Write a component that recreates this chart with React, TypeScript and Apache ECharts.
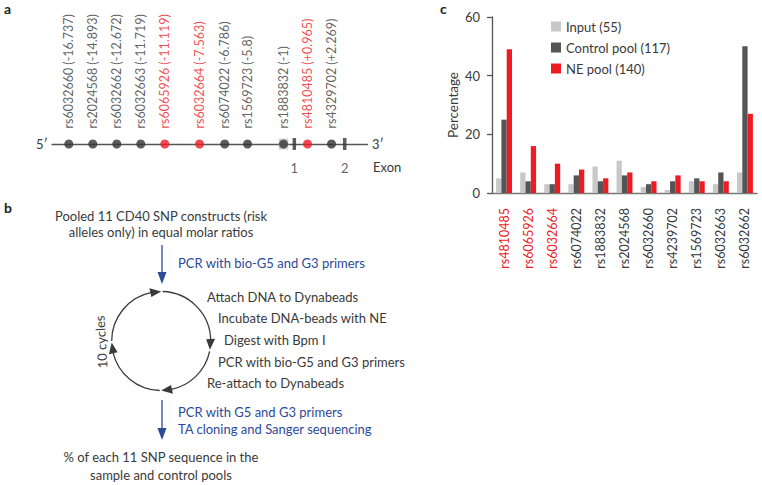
import React, { useEffect, useRef } from "react";
import * as echarts from "echarts";

// ---------- Panel a data ----------
const snpLabels = [
  "rs6032660 (-16.737)",
  "rs2024568 (-14.893)",
  "rs6032662 (-12.672)",
  "rs6032663 (-11.719)",
  "rs6065926 (-11.119)",
  "rs6032664 (-7.563)",
  "rs6074022 (-6.786)",
  "rs1569723 (-5.8)",
  "rs1883832 (-1)",
  "rs4810485 (+0.965)",
  "rs4329702 (+2.269)",
];
// schematic positions along the gene line
const snpPos = [0, 1, 2, 3, 4, 5.45, 6.5, 7.45, 8.95, 9.95, 10.95];
const snpRisk = [false, false, false, false, true, true, false, false, false, true, false];
const boxedSnp = [8];
const exonPos = [9.4, 11.5];
const exonLabels = ["1", "2"];
const geneExtent = [-0.7, 12.45];

// ---------- Panel c data ----------
const categories = [
  "rs4810485",
  "rs6065926",
  "rs6032664",
  "rs6074022",
  "rs1883832",
  "rs2024568",
  "rs6032660",
  "rs4239702",
  "rs1569723",
  "rs6032663",
  "rs6032662",
];
const riskCategories = ["rs4810485", "rs6065926", "rs6032664"];
const inputVals = [5, 7, 3, 3, 9, 11, 2, 1, 4, 3, 7];
const controlVals = [25, 4, 3, 6, 4, 6, 3, 4, 5, 7, 50];
const neVals = [49, 16, 10, 8, 5, 7, 4, 6, 4, 4, 27];
const seriesNames = ["Input (55)", "Control pool (117)", "NE pool (140)"];
const yTicks = { min: 0, max: 60, interval: 20 };

const FONT = "Lato, 'Open Sans', sans-serif";
const RED = "#ed1c24";
const DARK = "#3a3a3a";
const BLUE = "#2b4a98";

function txt(text: string, x: number, y: number, opts: any = {}) {
  const align = opts.align || "left";
  return {
    type: "text",
    x,
    y,
    rotation: opts.rotation || 0,
    style: {
      text,
      fill: opts.color || DARK,
      fontSize: opts.size || 13,
      fontFamily: FONT,
      fontWeight: opts.weight || "normal",
      align,
      textAlign: align,
      verticalAlign: "middle",
      textVerticalAlign: "middle",
    },
  };
}

function buildCycle() {
  const cx = 161.2;
  const cy = 341;
  const r = 49.5;
  const tips = [-Math.PI / 2, 0.18, Math.PI / 2, Math.PI - 0.03];
  const len = 0.22;
  const half = 4.5;
  const els: any[] = [];
  for (let i = 0; i < 4; i++) {
    const t = tips[i];
    let next = tips[(i + 1) % 4];
    if (next < t) next += Math.PI * 2;
    els.push({
      type: "arc",
      shape: { cx, cy, r, startAngle: t + 0.03, endAngle: next - len + 0.03, clockwise: true },
      style: { stroke: DARK, lineWidth: 1.3, fill: null },
    });
    const b = t - len;
    const tip = [cx + r * Math.cos(t), cy + r * Math.sin(t)];
    const b1 = [cx + (r - half) * Math.cos(b), cy + (r - half) * Math.sin(b)];
    const b2 = [cx + (r + half) * Math.cos(b), cy + (r + half) * Math.sin(b)];
    els.push({ type: "polygon", shape: { points: [tip, b1, b2] }, style: { fill: DARK } });
  }
  return els;
}

function blueArrow(x: number, y1: number, y2: number) {
  return [
    { type: "line", shape: { x1: x, y1, x2: x, y2: y2 - 10 }, style: { stroke: BLUE, lineWidth: 1.3 } },
    {
      type: "polygon",
      shape: { points: [[x - 4.5, y2 - 12], [x + 4.5, y2 - 12], [x, y2]] },
      style: { fill: BLUE },
    },
  ];
}

export default function App() {
  const ref = useRef<HTMLDivElement>(null);
  useEffect(() => {
    if (!ref.current) return;
    const chart = echarts.init(ref.current, undefined, { renderer: "svg" });

    const graphics: any[] = [
      txt("a", 4, 8, { weight: "bold", size: 14, color: "#222" }),
      txt("b", 4, 207, { weight: "bold", size: 14, color: "#222" }),
      txt("c", 440, 8, { weight: "bold", size: 14, color: "#222" }),
      txt("5\u2032", 36, 144),
      txt("3\u2032", 372, 144),
      txt("Exon", 373, 167),
      txt("Pooled 11 CD40 SNP constructs (risk", 161, 216, { align: "center" }),
      txt("alleles only) in equal molar ratios", 161, 232, { align: "center" }),
      ...blueArrow(162, 245, 284),
      txt("PCR with bio-G5 and G3 primers", 178, 263, { color: BLUE }),
      ...buildCycle(),
      txt("Attach DNA to Dynabeads", 207, 297),
      txt("Incubate DNA-beads with NE", 218, 318),
      txt("Digest with Bpm I", 224, 340),
      txt("PCR with bio-G5 and G3 primers", 218, 362),
      txt("Re-attach to Dynabeads", 207, 383),
      txt("10 cycles", 101, 342, { align: "center", rotation: Math.PI / 2 + 0.06 }),
      ...blueArrow(162, 400, 440),
      txt("PCR with G5 and G3 primers", 178, 412, { color: BLUE }),
      txt("TA cloning and Sanger sequencing", 178, 429, { color: BLUE }),
      txt("% of each 11 SNP sequence in the", 161, 457, { align: "center" }),
      txt("sample and control pools", 161, 475, { align: "center" }),
    ];

    const option: any = {
      animation: false,
      textStyle: { fontFamily: FONT },
      grid: [
        { left: 492, right: 5, top: 17, bottom: 292 },
        { left: 52, right: 394.5, top: 100, bottom: 341 },
      ],
      legend: {
        orient: "vertical",
        left: 546,
        top: 15,
        itemWidth: 10,
        itemHeight: 10,
        itemGap: 8,
        icon: "rect",
        data: seriesNames,
        textStyle: { fontSize: 13, color: DARK, fontFamily: FONT },
      },
      xAxis: [
        {
          type: "category",
          gridIndex: 0,
          data: categories,
          offset: 4,
          axisLine: { lineStyle: { color: "#777", width: 1.3 } },
          axisTick: { show: false },
          axisLabel: {
            rotate: 90,
            margin: 11,
            fontSize: 12.5,
            fontFamily: FONT,
            color: (v: string) => (riskCategories.includes(v) ? RED : DARK),
          },
        },
        {
          type: "value",
          gridIndex: 1,
          min: geneExtent[0],
          max: geneExtent[1],
          axisLine: { show: true, onZero: false, lineStyle: { color: "#555", width: 1.3 } },
          axisTick: { show: false },
          axisLabel: { show: false },
          splitLine: { show: false },
        },
      ],
      yAxis: [
        {
          type: "value",
          gridIndex: 0,
          min: yTicks.min,
          max: yTicks.max,
          interval: yTicks.interval,
          name: "Percentage",
          nameLocation: "middle",
          nameGap: 32,
          nameTextStyle: { fontSize: 13.5, color: DARK, fontFamily: FONT },
          axisLine: { show: true, lineStyle: { color: "#555", width: 1.3 } },
          axisTick: { show: true, length: 5, lineStyle: { color: "#555", width: 1.3 } },
          axisLabel: { fontSize: 13, color: DARK, margin: 12, fontFamily: FONT },
          splitLine: { show: false },
        },
        { type: "value", gridIndex: 1, min: 0, max: 1, show: false },
      ],
      series: [
        {
          name: seriesNames[0],
          type: "bar",
          xAxisIndex: 0,
          yAxisIndex: 0,
          data: inputVals,
          barWidth: 5.3,
          barGap: "0%",
          itemStyle: { color: "#c8c8c8" },
        },
        {
          name: seriesNames[1],
          type: "bar",
          xAxisIndex: 0,
          yAxisIndex: 0,
          data: controlVals,
          barWidth: 5.3,
          barGap: "0%",
          itemStyle: { color: "#555555" },
        },
        {
          name: seriesNames[2],
          type: "bar",
          xAxisIndex: 0,
          yAxisIndex: 0,
          data: neVals,
          barWidth: 5.3,
          barGap: "0%",
          itemStyle: { color: RED },
        },
        {
          type: "scatter",
          xAxisIndex: 1,
          yAxisIndex: 1,
          symbol: "rect",
          symbolSize: [9.5, 11],
          z: 1,
          itemStyle: { color: "#c9c9c9" },
          data: boxedSnp.map((i) => [snpPos[i], 0]),
        },
        {
          type: "scatter",
          xAxisIndex: 1,
          yAxisIndex: 1,
          symbol: "rect",
          symbolSize: [3.5, 12],
          z: 3,
          itemStyle: { color: "#333" },
          label: {
            show: true,
            position: "bottom",
            distance: 11,
            fontSize: 13,
            color: DARK,
            fontFamily: FONT,
            formatter: (p: any) => exonLabels[p.dataIndex],
          },
          data: exonPos.map((x) => [x, 0]),
        },
        {
          type: "scatter",
          xAxisIndex: 1,
          yAxisIndex: 1,
          symbol: "circle",
          symbolSize: 9,
          z: 4,
          label: {
            show: true,
            position: "top",
            rotate: 90,
            align: "left",
            verticalAlign: "middle",
            distance: 11,
            fontSize: 12.5,
            fontFamily: FONT,
            formatter: (p: any) => snpLabels[p.dataIndex],
          },
          data: snpPos.map((x, i) => ({
            value: [x, 0],
            itemStyle: { color: snpRisk[i] ? RED : "#333" },
            label: { color: snpRisk[i] ? RED : DARK },
          })),
        },
      ],
      graphic: { elements: graphics },
    };
    chart.setOption(option);
    return () => chart.dispose();
  }, []);
  return (
    <div
      ref={ref}
      style={{ position: "fixed", left: 0, top: 0, width: 762, height: 485, background: "#fff" }}
    />
  );
}
